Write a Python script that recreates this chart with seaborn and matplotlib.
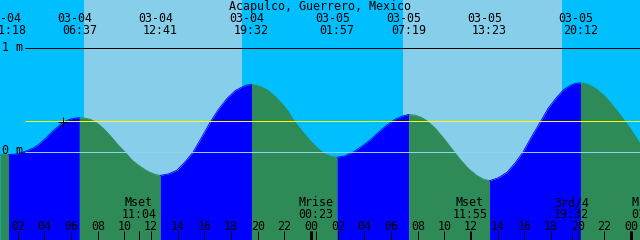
import numpy as np
import pandas as pd
import matplotlib
matplotlib.use("Agg")
import matplotlib.pyplot as plt
import seaborn as sns

# ---------------- data ----------------
station = "Acapulco, Guerrero, Mexico"

# tide curve samples (hours since 03-04 00:00, metres)
tide_hours = [
    0.667, 1.30, 1.9, 2.54, 3.14, 3.5, 3.82, 4.12, 4.42, 4.7, 4.94, 5.17, 5.39,
    5.7, 6.07, 6.35, 6.617,
    7.0, 7.42, 7.8, 8.17, 8.47, 8.77, 9.1, 9.44, 9.74, 10.04, 10.34, 10.64,
    10.98, 11.32, 11.62, 11.92, 12.3, 12.683,
    13.3, 13.94, 14.54, 15.14, 15.78, 16.42, 17.05, 17.69, 18.3, 18.89, 19.2,
    19.533,
    19.85, 20.25, 20.69, 21.3, 21.89, 22.25, 22.64, 23.3, 23.92, 24.5, 25.04,
    25.5, 25.95,
    26.5, 27.14, 27.8, 28.42, 29.05, 29.69, 30.3, 30.89, 31.317,
    31.8, 32.25, 32.69, 33.3, 33.89, 34.5, 35.17, 35.8, 36.44, 36.9, 37.383,
    38.0, 38.69, 39.3, 39.89, 40.5, 41.17, 41.8, 42.44, 42.95, 43.42, 43.8,
    44.2,
    44.6, 45.0, 45.44, 46.05, 46.64, 47.2, 47.69, 48.2, 48.667]
tide_m = [
    -0.025, -0.03, -0.025, 0.0, 0.032, 0.06, 0.096, 0.13, 0.17, 0.205, 0.23,
    0.258, 0.28, 0.30, 0.315, 0.322, 0.325,
    0.322, 0.31, 0.287, 0.25, 0.215, 0.175, 0.128, 0.074, 0.035, -0.005,
    -0.05, -0.09, -0.125, -0.155, -0.18, -0.2, -0.22, -0.23,
    -0.215, -0.18, -0.10, -0.007, 0.135, 0.28, 0.405, 0.51, 0.585, 0.625,
    0.64, 0.644,
    0.638, 0.622, 0.595, 0.53, 0.45, 0.39, 0.31, 0.2, 0.106, 0.03, -0.022,
    -0.047, -0.055,
    -0.043, -0.007, 0.05, 0.11, 0.185, 0.255, 0.31, 0.343, 0.356,
    0.35, 0.33, 0.295, 0.225, 0.135, 0.035, -0.075, -0.165, -0.232, -0.265,
    -0.28,
    -0.255, -0.2, -0.11, -0.005, 0.135, 0.28, 0.42, 0.525, 0.595, 0.635,
    0.655, 0.66,
    0.652, 0.632, 0.598, 0.53, 0.44, 0.35, 0.265, 0.17, 0.075]

# high / low tides
ext_hours = [1.30, 6.617, 12.683, 19.533, 25.95, 31.317, 37.383, 44.2]
ext_kind = ["low", "high", "low", "high", "low", "high", "low", "high"]
ext_dates = ["03-04", "03-04", "03-04", "03-04", "03-05", "03-05", "03-05", "03-05"]
ext_times = ["01:18", "06:37", "12:41", "19:32", "01:57", "07:19", "13:23", "20:12"]

# sunrise / sunset
sun_hours = [6.93, 18.79, 30.92, 42.79]

# moon events
moon_hours = [11.067, 24.383, 35.917, 43.533, 49.317]
moon_names = ["Mset", "Mrise", "Mset", "3rd/4", "Mrise"]
moon_times = ["11:04", "00:23", "11:55", "19:32", "01:19"]

# hour ticks
tick_hours = list(range(2, 49, 2))
tick_labels = [f"{h % 24:02d}" for h in tick_hours]
midnight_hours = [24, 48]

mark_levels = [1.0, 0.0]
mark_labels = ["1 m", "0 m"]
msl_level = 0.298
now_hour, now_level = 5.41, 0.284

# ---------------- layout ----------------
T0 = 0.667
T1 = T0 + 48
PXH = 640 / 48.0


def py2m(py):
    return (151.5 - py) / 104.0


def px2h(px):
    return T0 + px / PXH


NIGHT, DAY = "#00BFFF", "#87CEEB"
FLOOD, EBB = "#0000FF", "#2E8B57"
FONT = dict(family="DejaVu Sans Mono", fontsize=8.4, color="black")

fig = plt.figure(figsize=(6.4, 2.4), dpi=100)
ax = fig.add_axes([0, 0, 1, 1])
ymin, ymax = py2m(240), py2m(0)

# sky
edges = [T0 - 1] + sun_hours + [T1 + 1]
for i in range(len(edges) - 1):
    ax.axvspan(edges[i], edges[i + 1], color=NIGHT if i % 2 == 0 else DAY,
               lw=0, zorder=0)

# tide fill, split into flood / ebb
df = pd.DataFrame({"t": tide_hours, "h": tide_m})
bounds = [-np.inf] + ext_hours + [np.inf]
rows = []
for i in range(len(bounds) - 1):
    if i < len(ext_kind):
        phase = "flood" if ext_kind[i] == "high" else "ebb"
    else:
        phase = "ebb" if ext_kind[-1] == "high" else "flood"
    seg = df[(df.t >= bounds[i] - 1e-6) & (df.t <= bounds[i + 1] + 1e-6)]
    ax.fill_between(seg.t, seg.h, ymin, color=FLOOD if phase == "flood" else EBB,
                    lw=0, zorder=1)
    s = seg.copy()
    s["phase"] = phase
    s["seg"] = i
    rows.append(s)
segdf = pd.concat(rows, ignore_index=True)
sns.lineplot(data=segdf, x="t", y="h", hue="phase", units="seg", estimator=None,
             palette={"flood": FLOOD, "ebb": EBB}, lw=0.6, legend=False,
             ax=ax, zorder=2)
ax.set_xlim(T0, T1)
ax.set_ylim(ymin, ymax)
ax.axis("off")

# level lines
x_start = px2h(25)
ax.hlines(mark_levels[0], x_start, T1, color="black", lw=0.72, zorder=3)
ax.hlines(mark_levels[1], x_start, T1, color="#8FD3F0", lw=0.72, zorder=3)
ax.hlines(msl_level, x_start, T1, color="#FFFF00", lw=0.72, zorder=3)
for lvl, lab, base in zip(mark_levels, mark_labels, [50.7, 154.3]):
    ax.text(px2h(2), py2m(base), lab, ha="left", va="baseline", **FONT, zorder=5)

# current-time marker
ax.plot([now_hour], [now_level], marker="+", ms=7.2, mew=0.72, color="black",
        zorder=4)

# title
ax.text(px2h(320), py2m(10), station, ha="center", va="baseline", **FONT, zorder=5)

# extreme labels
for h, d, tm in zip(ext_hours, ext_dates, ext_times):
    ax.text(h - 4.5 / PXH, py2m(21.7), d, ha="center", va="baseline", **FONT, zorder=5)
    ax.text(h, py2m(34.3), tm, ha="center", va="baseline", **FONT, zorder=5)

# hour ticks
xtr = ax.get_xaxis_transform()
ax.vlines(tick_hours, 0, 9 / 240, transform=xtr, color="black", lw=0.72, zorder=4)
ax.vlines(midnight_hours, 0, 9 / 240, transform=xtr, color="black", lw=2.16, zorder=4)
for h, lab in zip(tick_hours, tick_labels):
    ax.text(h, py2m(230), lab, ha="center", va="baseline", **FONT, zorder=5)

# moon events
ax.vlines(moon_hours, 0, 9 / 240, transform=xtr, color="black", lw=0.72, zorder=4)
for h, n, tm in zip(moon_hours, moon_names, moon_times):
    ax.text(h, py2m(206), n, ha="center", va="baseline", **FONT, zorder=5)
    ax.text(h, py2m(218.5), tm, ha="center", va="baseline", **FONT, zorder=5)

fig.savefig("out.png", dpi=100)
